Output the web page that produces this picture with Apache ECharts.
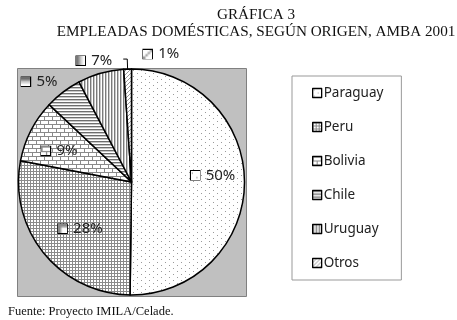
<!DOCTYPE html>
<html>
<head>
<meta charset="utf-8">
<script src="https://cdn.jsdelivr.net/npm/echarts@6/dist/echarts.min.js"></script>
<style>
  html, body { margin: 0; padding: 0; background: #fff; }
  #chart { width: 457px; height: 320px; }
</style>
</head>
<body>
<div id="chart"></div>
<script>
const countries = ['Paraguay', 'Peru', 'Bolivia', 'Chile', 'Uruguay', 'Otros'];
const shares = [50.2, 27.8, 9.0, 5.3, 6.6, 1.1];
const patternKinds = ['dots', 'grid', 'brick', 'hlines', 'vlines', 'diag'];
// label nudges from the default anchor, per slice
const labelShift = [[22, -7], [-5, 9], [-19, -4], [-56, -53], [-21, -64], [61, -5]];

function makePattern(kind) {
  const c = document.createElement('canvas');
  const size = {dots: [8, 6], grid: [3, 3], brick: [8, 8], hlines: [1, 3], vlines: [3, 1], diag: [4, 4]}[kind];
  c.width = size[0];
  c.height = size[1];
  const g = c.getContext('2d');
  g.fillStyle = '#fff';
  g.fillRect(0, 0, c.width, c.height);
  if (kind === 'dots') {
    g.fillStyle = '#9a9a9a';
    g.fillRect(1, 1, 1, 1);
    g.fillRect(5, 4, 1, 1);
  } else if (kind === 'grid') {
    g.fillStyle = '#8a8a8a';
    g.fillRect(0, 0, 3, 1);
    g.fillRect(0, 0, 1, 3);
  } else if (kind === 'brick') {
    g.fillStyle = '#8a8a8a';
    g.fillRect(0, 0, 8, 1);
    g.fillRect(0, 4, 8, 1);
    g.fillRect(0, 0, 1, 4);
    g.fillRect(4, 4, 1, 4);
  } else if (kind === 'hlines') {
    g.fillStyle = '#6e6e6e';
    g.fillRect(0, 0, 1, 1);
    g.fillStyle = '#c8c8c8';
    g.fillRect(0, 1, 1, 1);
  } else if (kind === 'vlines') {
    g.fillStyle = '#7a7a7a';
    g.fillRect(0, 0, 1, 1);
    g.fillStyle = '#c8c8c8';
    g.fillRect(1, 0, 1, 1);
  } else if (kind === 'diag') {
    g.fillStyle = '#9a9a9a';
    for (let i = 0; i < 4; i++) g.fillRect(i, 3 - i, 1, 1);
  }
  return c;
}

const patterns = patternKinds.map(makePattern);
const rich = {t: {fontFamily: 'Noto Sans', fontSize: 15, color: '#222', padding: [0, 0, 0, 6]}};
patterns.forEach((p, i) => {
  rich['b' + i] = {width: 9, height: 9, borderColor: '#000', borderWidth: 1.5, backgroundColor: {image: p}};
});

const chart = echarts.init(document.getElementById('chart'), null, {renderer: 'canvas'});

const option = {
  animation: false,
  backgroundColor: '#fff',
  title: [
    {
      text: 'GRÁFICA 3\nEMPLEADAS DOMÉSTICAS, SEGÚN ORIGEN, AMBA 2001',
      left: 251,
      top: 2,
      textAlign: 'center',
      textStyle: {fontFamily: 'Liberation Serif', fontSize: 15.2, fontWeight: 'normal', color: '#111', lineHeight: 17, align: 'center'},
    },
    {
      text: 'Fuente: Proyecto IMILA/Celade.',
      left: 3,
      top: 300,
      textStyle: {fontFamily: 'Liberation Serif', fontSize: 12.5, fontWeight: 'normal', color: '#111'},
    },
  ],
  graphic: [
    {
      type: 'rect',
      z: -1,
      shape: {x: 17.5, y: 68.5, width: 229, height: 228},
      style: {fill: '#c0c0c0', stroke: '#808080', lineWidth: 1},
    },
  ],
  legend: {
    orient: 'vertical',
    left: 292,
    top: 76,
    padding: [9, 18, 9, 20],
    itemGap: 18,
    itemWidth: 9,
    itemHeight: 9,
    icon: 'rect',
    backgroundColor: '#fff',
    borderColor: '#999',
    borderWidth: 1,
    borderRadius: 0,
    itemStyle: {borderColor: '#000', borderWidth: 1.3},
    textStyle: {fontFamily: 'Noto Sans', fontSize: 13.5, color: '#222', lineHeight: 16, padding: [0, 0, 0, -3]},
    data: countries,
  },
  series: [
    {
      type: 'pie',
      center: [131.5, 182],
      radius: 113,
      startAngle: 90,
      clockwise: true,
      avoidLabelOverlap: false,
      emphasis: {disabled: true},
      itemStyle: {borderColor: '#000', borderWidth: 1.5},
      label: {
        show: true,
        position: 'inside',
        formatter: (p) => `{b${p.dataIndex}|}{t|${Math.round(p.percent)}%}`,
        rich,
      },
      labelLine: {show: false},
      labelLayout: (p) => ({dx: labelShift[p.dataIndex][0], dy: labelShift[p.dataIndex][1]}),
      data: countries.map((name, i) => {
        const item = {name, value: shares[i], itemStyle: {color: {image: patterns[i], repeat: 'repeat'}}};
        if (name === 'Otros') {
          item.label = {position: 'outside'};
          item.labelLine = {show: true, length: 10, length2: 4, lineStyle: {color: '#000', width: 1}};
        }
        return item;
      }),
    },
  ],
};

chart.setOption(option);
</script>
</body>
</html>
